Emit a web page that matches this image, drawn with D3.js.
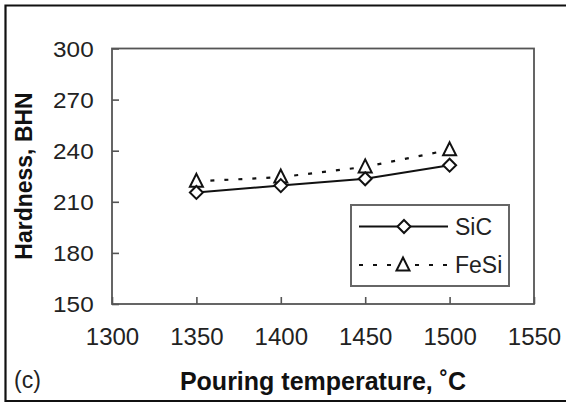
<!DOCTYPE html>
<html><head><meta charset="utf-8">
<script src="https://cdn.jsdelivr.net/npm/d3@7"></script>
<style>
html,body{margin:0;padding:0;background:#fff;}
svg{display:block;font-family:"Liberation Sans",Arial,Helvetica,sans-serif;}
</style></head>
<body>
<svg id="chart" width="566" height="405"></svg>
<script>
const temps = [1350, 1400, 1450, 1500];
const sicValues = [215.5, 219.5, 223.5, 231.5];
const fesiValues = [222, 224.5, 230.5, 240.5];
const xTicks = [1300, 1350, 1400, 1450, 1500, 1550];
const yTicks = [150, 180, 210, 240, 270, 300];
const seriesNames = ["SiC", "FeSi"];

const svg = d3.select("#chart");
const m = {left:112, right:534, top:48.5, bottom:304};
const x = d3.scaleLinear().domain([1300,1550]).range([m.left, m.right]);
const y = d3.scaleLinear().domain([150,300]).range([m.bottom, m.top]);

// outer frame (right side cropped)
svg.append("path").attr("d","M566,5.5 H5.5 V401 H566")
  .attr("fill","none").attr("stroke","#111").attr("stroke-width",2.2);

// y axis
const ya = svg.append("g").attr("transform",`translate(${m.left},0)`)
  .call(d3.axisLeft(y).tickValues(yTicks).tickSizeInner(-7).tickSizeOuter(0).tickPadding(17));
ya.select(".domain").remove();
ya.selectAll(".tick line").attr("stroke","#555").attr("stroke-width",1.6);
ya.selectAll(".tick text").attr("font-size",22.5).attr("fill","#222")
  .attr("font-family","'Liberation Sans',Arial,sans-serif").attr("dy","0.34em")
  .attr("transform","scale(1.08,1)");

// x axis
const xa = svg.append("g").attr("transform",`translate(0,${m.bottom})`)
  .call(d3.axisBottom(x).tickValues(xTicks).tickSizeInner(-7).tickSizeOuter(0).tickPadding(24).tickFormat(d3.format("d")));
xa.select(".domain").remove();
xa.selectAll(".tick line").attr("stroke","#555").attr("stroke-width",1.6);
xa.selectAll(".tick text").attr("font-size",24).attr("fill","#222")
  .attr("font-family","'Liberation Sans',Arial,sans-serif");

// plot box
svg.append("rect").attr("x",m.left).attr("y",m.top)
  .attr("width",m.right-m.left).attr("height",m.bottom-m.top)
  .attr("fill","none").attr("stroke","#555").attr("stroke-width",1.8);

// lines
const line = d3.line().x((d,i)=>x(temps[i])).y(d=>y(d));
svg.append("path").datum(fesiValues).attr("d",line)
  .attr("fill","none").attr("stroke","#111").attr("stroke-width",2.2)
  .attr("stroke-dasharray","4,10");
svg.append("path").datum(sicValues).attr("d",line)
  .attr("fill","none").attr("stroke","#111").attr("stroke-width",2);

const diamond = (cx,cy)=>`M${cx},${cy-6.5}L${cx+6.5},${cy}L${cx},${cy+6.5}L${cx-6.5},${cy}Z`;
const triangle = (cx,cy)=>`M${cx},${cy-7.5}L${cx+6.5},${cy+5.5}L${cx-6.5},${cy+5.5}Z`;

svg.append("g").selectAll("path").data(fesiValues).join("path")
  .attr("d",(d,i)=>triangle(x(temps[i]),y(d)))
  .attr("fill","#fff").attr("stroke","#111").attr("stroke-width",2);
svg.append("g").selectAll("path").data(sicValues).join("path")
  .attr("d",(d,i)=>diamond(x(temps[i]),y(d)))
  .attr("fill","#fff").attr("stroke","#111").attr("stroke-width",2);

// legend
const lg = svg.append("g");
lg.append("rect").attr("x",351).attr("y",205).attr("width",158).attr("height",81)
  .attr("fill","#fff").attr("stroke","#666").attr("stroke-width",2);
lg.append("line").attr("x1",359).attr("x2",448).attr("y1",226.5).attr("y2",226.5)
  .attr("stroke","#111").attr("stroke-width",2);
lg.append("path").attr("d",diamond(404,226.5)).attr("fill","#fff").attr("stroke","#111").attr("stroke-width",2);
lg.append("line").attr("x1",359).attr("x2",448).attr("y1",265).attr("y2",265)
  .attr("stroke","#111").attr("stroke-width",2.2).attr("stroke-dasharray","4,10");
lg.append("path").attr("d",triangle(403,265)).attr("fill","#fff").attr("stroke","#111").attr("stroke-width",2);
lg.selectAll("text.lab").data(seriesNames).join("text").attr("class","lab")
  .attr("x",455).attr("y",(d,i)=>[226.5,265][i]).attr("dy","0.36em")
  .attr("font-size",23).attr("fill","#222").text(d=>d);

// axis titles
svg.append("text").attr("transform","translate(32,176) rotate(-90)")
  .attr("text-anchor","middle").attr("font-size",23).attr("font-weight","bold")
  .attr("fill","#111").text("Hardness, BHN");
svg.append("text").attr("x",323).attr("y",390).attr("text-anchor","middle")
  .attr("font-size",25).attr("font-weight","bold").attr("fill","#111")
  .text("Pouring temperature, ˚C");
svg.append("text").attr("x",14).attr("y",388).attr("font-size",23)
  .attr("fill","#222").text("(c)");
</script>
</body></html>
